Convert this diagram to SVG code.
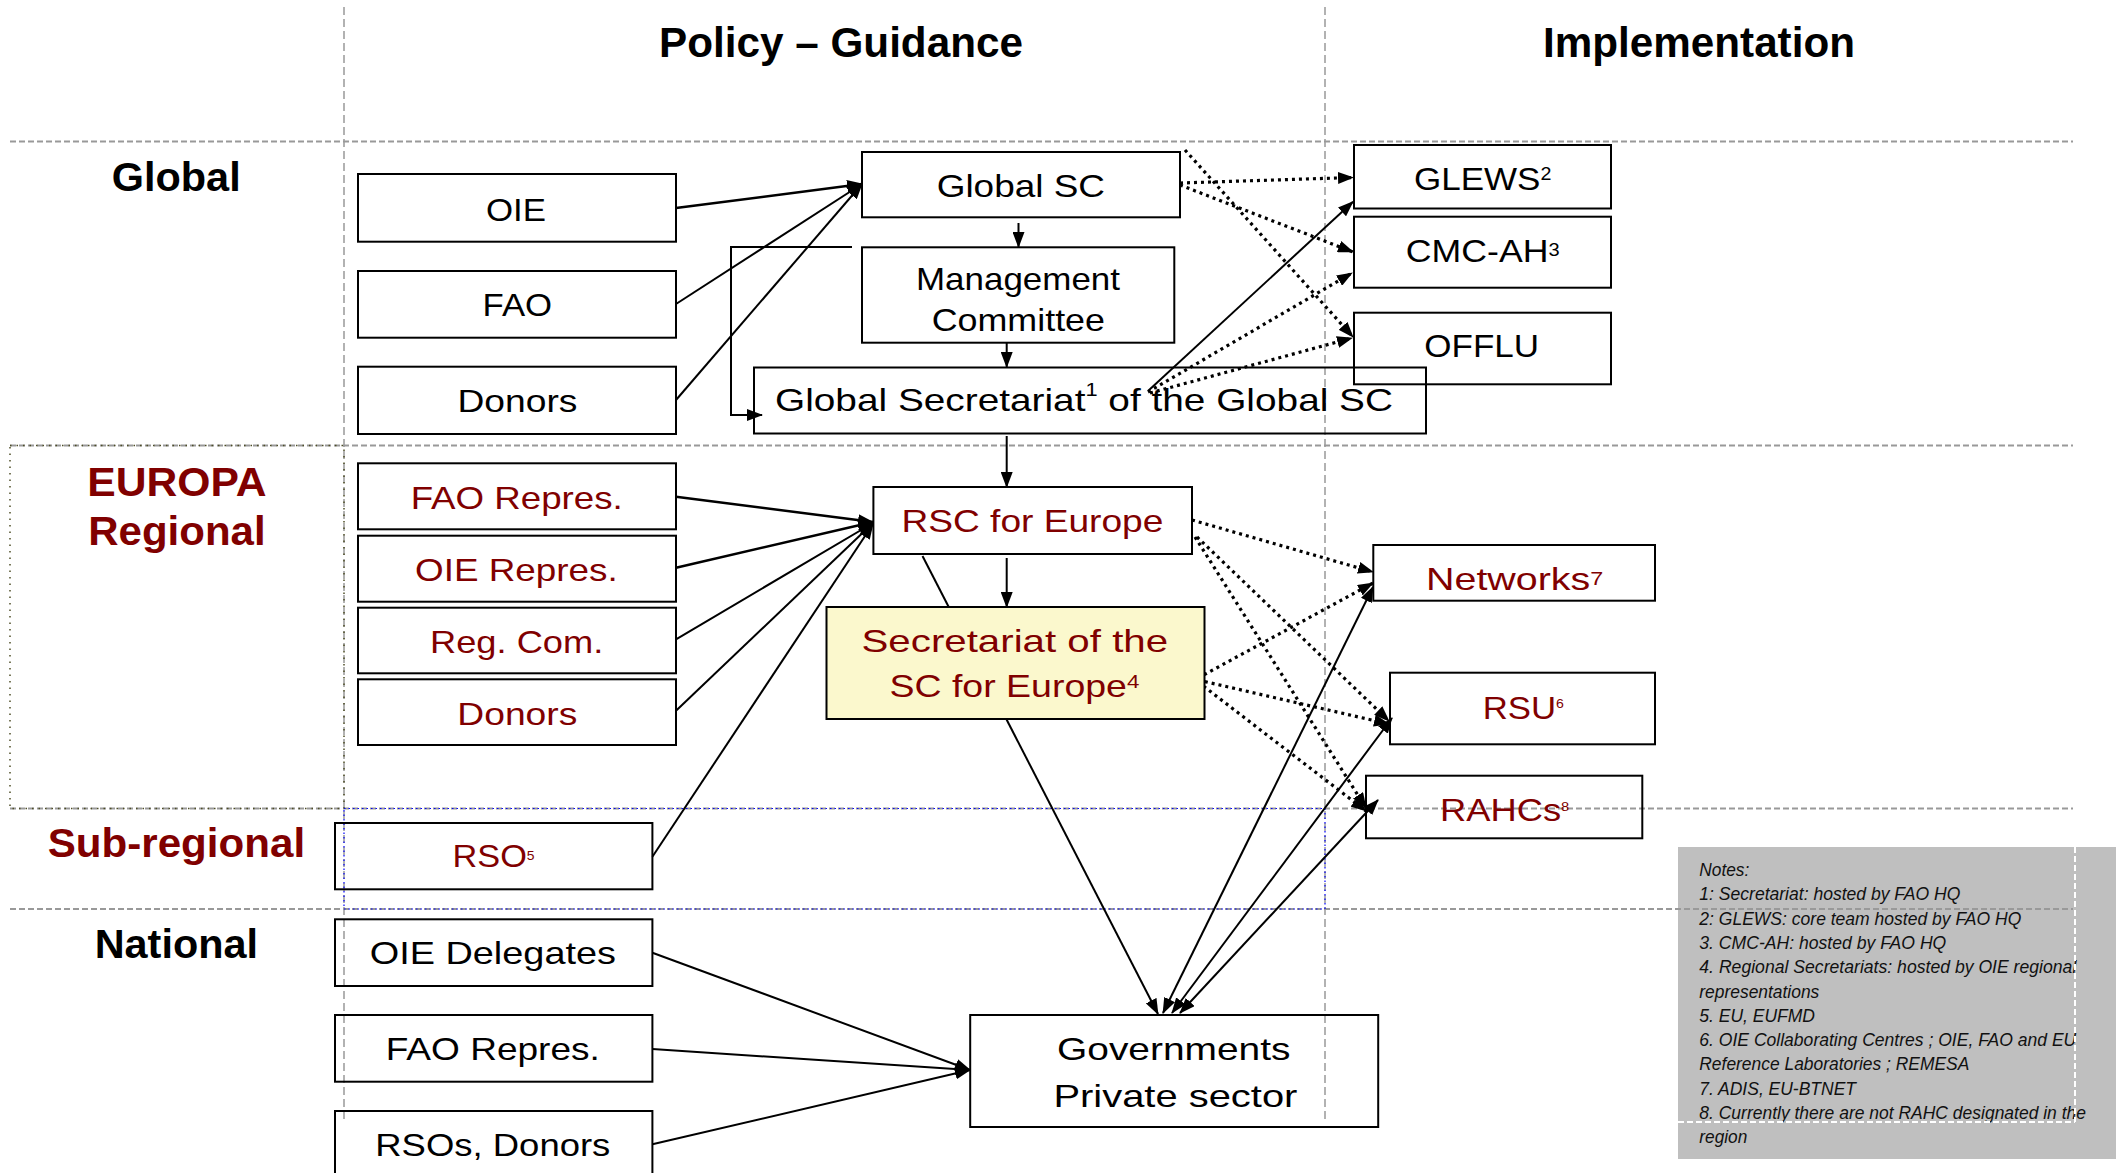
<svg xmlns="http://www.w3.org/2000/svg" width="2127" height="1173" viewBox="0 0 2127 1173">
<style>
text{font-family:"Liberation Sans",Arial,Helvetica,sans-serif;fill:#000}
.b{font-size:32px}
.r{fill:#800000}
.h{font-size:42px;font-weight:bold}
.l{font-size:41px;font-weight:bold}
.n{font-size:17.5px;font-style:italic;fill:#111}
.box{fill:none;stroke:#000;stroke-width:2}
.g{stroke:#999;stroke-width:2;stroke-dasharray:6 3;fill:none}
.c{stroke:#000;stroke-width:2;fill:none;marker-end:url(#ah)}
.c2{stroke:#000;stroke-width:2;fill:none;marker-start:url(#ah);marker-end:url(#ah)}
.d{stroke:#000;stroke-width:3.2;stroke-dasharray:3 4;fill:none;marker-end:url(#ah)}
</style>
<defs>
<marker id="ah" viewBox="0 0 16 12" refX="15" refY="6" markerWidth="16" markerHeight="12" markerUnits="userSpaceOnUse" orient="auto-start-reverse"><path d="M0,0 L16,6 L0,12 z" fill="#000"/></marker>
</defs>
<rect width="2127" height="1173" fill="#fff"/>

<g id="notes-bg"><rect x="1678" y="847" width="438" height="312" fill="#bfbfbf"/></g>

<g id="grid">
<line class="g" x1="10" y1="141.5" x2="2073" y2="141.5"/>
<line class="g" x1="10" y1="445.5" x2="2073" y2="445.5"/>
<line class="g" x1="10" y1="808.5" x2="2073" y2="808.5"/>
<line class="g" x1="10" y1="909" x2="2073" y2="909"/>
<line class="g" x1="344" y1="7" x2="344" y2="1122" style="stroke-width:1.5;stroke-dasharray:8 4"/>
<line class="g" x1="1325" y1="7" x2="1325" y2="1122" style="stroke-width:1.5;stroke-dasharray:8 4"/>
<rect x="10" y="445.5" width="334" height="363" fill="none" stroke="#4d4d26" stroke-width="1.5" stroke-dasharray="1.5 5"/>
<rect x="344" y="808.5" width="981" height="100.5" fill="none" stroke="#0000ff" stroke-width="1.2" stroke-dasharray="1.5 3"/>
</g>

<g id="titles">
<text class="h" x="659" y="56.7" textLength="364" lengthAdjust="spacingAndGlyphs">Policy – Guidance</text>
<text class="h" x="1543" y="56.7" textLength="312" lengthAdjust="spacingAndGlyphs">Implementation</text>
<text class="l" x="111.7" y="191" textLength="129" lengthAdjust="spacingAndGlyphs">Global</text>
<text class="l r" x="87.3" y="496" textLength="179.3" lengthAdjust="spacingAndGlyphs">EUROPA</text>
<text class="l r" x="88.3" y="545" textLength="177.3" lengthAdjust="spacingAndGlyphs">Regional</text>
<text class="l r" x="47.7" y="857.3" textLength="257.5" lengthAdjust="spacingAndGlyphs">Sub-regional</text>
<text class="l" x="94.7" y="958.3" textLength="163.3" lengthAdjust="spacingAndGlyphs">National</text>
</g>

<g id="connectors">
<path class="c" d="M676,208 L862,184" style="stroke-width:2.5"/>
<path class="c" d="M676,304 L862,184"/>
<path class="c" d="M676,400 L862,184"/>
<path class="c" d="M1018.5,223 L1018.5,247"/>
<path class="c" d="M1006.7,343 L1006.7,367"/>
<path class="c" d="M852,247 H731 V415 H762"/>
<path class="c" d="M1006.7,436 L1006.7,487"/>
<path class="d" d="M1180,183 L1353,177.5"/>
<path class="d" d="M1180,185 L1353,252"/>
<path class="d" d="M1185,150 L1353,337"/>
<path class="c" d="M1148,391 L1353,201.7"/>
<path class="d" d="M1148,392 L1352,273"/>
<path class="d" d="M1150,393 L1352,338"/>
<path class="c" d="M676,496.7 L873,522" style="stroke-width:2.5"/>
<path class="c" d="M676,567.7 L873,522" style="stroke-width:2.5"/>
<path class="c" d="M676,639.3 L873,523"/>
<path class="c" d="M676,710.7 L873,523"/>
<path class="c" d="M652.4,856.7 L873,524"/>
<path class="c" d="M1006.7,558 L1006.7,607"/>
<path class="c" d="M922.5,556 L1158,1014"/>
<path class="d" d="M1192,520 L1373,572"/>
<path class="d" d="M1197,537 L1389,721"/>
<path class="d" d="M1195,537 L1366,808"/>
<path class="d" d="M1198,678 L1373,583"/>
<path class="d" d="M1198,680 L1389,724"/>
<path class="d" d="M1198,682 L1366,811"/>
<path class="c2" d="M1163,1013 L1373,587"/>
<path class="c2" d="M1172,1013 L1392,718"/>
<path class="c2" d="M1180,1013 L1378,800"/>
<path class="c" d="M652.4,952.7 L970,1070"/>
<path class="c" d="M652.4,1049 L970,1070"/>
<path class="c" d="M652.4,1144.3 L970,1070"/>
</g>

<g id="n-oie"><rect class="box" x="358" y="174" width="318" height="67.7"/><text class="b" x="486" y="220.5" textLength="60" lengthAdjust="spacingAndGlyphs">OIE</text></g>
<g id="n-fao"><rect class="box" x="358" y="271" width="318" height="66.7"/><text class="b" x="482.6" y="316" textLength="69.5" lengthAdjust="spacingAndGlyphs">FAO</text></g>
<g id="n-donors"><rect class="box" x="358" y="366.7" width="318" height="67.3"/><text class="b" x="457.4" y="412" textLength="120" lengthAdjust="spacingAndGlyphs">Donors</text></g>
<g id="n-globalsc"><rect class="box" x="862" y="152" width="318" height="65.3"/><text class="b" x="936.7" y="196.7" textLength="168.3" lengthAdjust="spacingAndGlyphs">Global SC</text></g>
<g id="n-mgmt"><rect class="box" x="862" y="247.3" width="312.3" height="95.4"/><text class="b" x="916" y="290" textLength="204" lengthAdjust="spacingAndGlyphs">Management</text><text class="b" x="931.7" y="330.5" textLength="173.3" lengthAdjust="spacingAndGlyphs">Committee</text></g>
<g id="n-globalsec"><rect class="box" x="754" y="367.5" width="672" height="66"/><text class="b" x="775" y="410.5" textLength="618" lengthAdjust="spacingAndGlyphs">Global Secretariat<tspan font-size="18" dy="-15">1</tspan><tspan dy="15"> of the Global SC</tspan></text></g>
<g id="n-glews"><rect class="box" x="1354" y="145" width="257" height="63.5"/><text class="b" x="1414" y="190" textLength="137.4" lengthAdjust="spacingAndGlyphs">GLEWS<tspan font-size="18" dy="-10">2</tspan></text></g>
<g id="n-cmcah"><rect class="box" x="1354" y="216.7" width="257" height="71"/><text class="b" x="1405.8" y="261.7" textLength="153.8" lengthAdjust="spacingAndGlyphs">CMC-AH<tspan font-size="18" dy="-6">3</tspan></text></g>
<g id="n-offlu"><rect class="box" x="1354" y="312.7" width="257" height="71.6"/><text class="b" x="1424.3" y="356.7" textLength="114.7" lengthAdjust="spacingAndGlyphs">OFFLU</text></g>

<g id="n-eu-fao"><rect class="box" x="358" y="463.3" width="318" height="66"/><text class="b r" x="410.7" y="509.3" textLength="212" lengthAdjust="spacingAndGlyphs">FAO Repres.</text></g>
<g id="n-eu-oie"><rect class="box" x="358" y="535.7" width="318" height="66"/><text class="b r" x="415" y="580.7" textLength="202.7" lengthAdjust="spacingAndGlyphs">OIE Repres.</text></g>
<g id="n-eu-regcom"><rect class="box" x="358" y="607.7" width="318" height="65.6"/><text class="b r" x="430" y="652.7" textLength="173.3" lengthAdjust="spacingAndGlyphs">Reg. Com.</text></g>
<g id="n-eu-donors"><rect class="box" x="358" y="679.3" width="318" height="65.7"/><text class="b r" x="457.3" y="725" textLength="120" lengthAdjust="spacingAndGlyphs">Donors</text></g>
<g id="n-rsc"><rect class="box" x="873.4" y="487" width="318.6" height="67"/><text class="b r" x="901.4" y="531.7" textLength="262" lengthAdjust="spacingAndGlyphs">RSC for Europe</text></g>
<g id="n-secretariat"><rect x="826.5" y="607" width="378" height="112" fill="#fbf8cd" stroke="#000" stroke-width="2"/><text class="b r" x="861.5" y="651.7" textLength="306.6" lengthAdjust="spacingAndGlyphs">Secretariat of the</text><text class="b r" x="889.5" y="696.7" textLength="249.8" lengthAdjust="spacingAndGlyphs">SC for Europe<tspan font-size="19" dy="-9">4</tspan></text></g>
<g id="n-networks"><rect class="box" x="1373.3" y="545" width="281.7" height="55.7"/><text class="b r" x="1426" y="590" textLength="177.3" lengthAdjust="spacingAndGlyphs">Networks<tspan font-size="19" dy="-5">7</tspan></text></g>
<g id="n-rsu"><rect class="box" x="1390" y="672.7" width="265" height="71.6"/><text class="b r" x="1482.7" y="719" textLength="81.3" lengthAdjust="spacingAndGlyphs">RSU<tspan font-size="13" dy="-11">6</tspan></text></g>
<g id="n-rahcs"><rect class="box" x="1366" y="775.7" width="276.3" height="62.6"/><text class="b r" x="1440" y="821" textLength="129.3" lengthAdjust="spacingAndGlyphs">RAHCs<tspan font-size="13" dy="-10">8</tspan></text></g>
<g id="n-rso"><rect class="box" x="335" y="823" width="317.4" height="66.3"/><text class="b r" x="452.5" y="867.3" textLength="82.1" lengthAdjust="spacingAndGlyphs">RSO<tspan font-size="13" dy="-7">5</tspan></text></g>

<g id="n-oiedel"><rect class="box" x="335" y="919.3" width="317.4" height="66.7"/><text class="b" x="369.7" y="964" textLength="246.3" lengthAdjust="spacingAndGlyphs">OIE Delegates</text></g>
<g id="n-nat-fao"><rect class="box" x="335" y="1015" width="317.4" height="66.7"/><text class="b" x="385.8" y="1060" textLength="214" lengthAdjust="spacingAndGlyphs">FAO Repres.</text></g>
<g id="n-rsos"><rect class="box" x="335" y="1111" width="317.4" height="67"/><text class="b" x="375.3" y="1156" textLength="235" lengthAdjust="spacingAndGlyphs">RSOs, Donors</text></g>
<g id="n-gov"><rect class="box" x="970.2" y="1015" width="408" height="112"/><text class="b" x="1057" y="1060" textLength="233.5" lengthAdjust="spacingAndGlyphs">Governments</text><text class="b" x="1053.4" y="1106.7" textLength="244" lengthAdjust="spacingAndGlyphs">Private sector</text></g>

<g id="notes">
<text class="n" x="1699.3" y="876" textLength="50" lengthAdjust="spacingAndGlyphs">Notes:</text>
<text class="n" x="1699.3" y="900.3" textLength="261" lengthAdjust="spacingAndGlyphs">1: Secretariat: hosted by FAO HQ</text>
<text class="n" x="1699.3" y="924.6" textLength="322" lengthAdjust="spacingAndGlyphs">2: GLEWS: core team hosted by FAO HQ</text>
<text class="n" x="1699.3" y="948.9" textLength="247" lengthAdjust="spacingAndGlyphs">3. CMC-AH: hosted by FAO HQ</text>
<text class="n" x="1699.3" y="973.2" textLength="377" lengthAdjust="spacingAndGlyphs">4. Regional Secretariats: hosted by OIE regional</text>
<text class="n" x="1699.3" y="997.5" textLength="120" lengthAdjust="spacingAndGlyphs">representations</text>
<text class="n" x="1699.3" y="1021.8" textLength="115.7" lengthAdjust="spacingAndGlyphs">5. EU, EUFMD</text>
<text class="n" x="1699.3" y="1046.1" textLength="377" lengthAdjust="spacingAndGlyphs">6. OIE Collaborating Centres ; OIE, FAO and EU</text>
<text class="n" x="1699.3" y="1070.4" textLength="270" lengthAdjust="spacingAndGlyphs">Reference Laboratories ; REMESA</text>
<text class="n" x="1699.3" y="1094.7" textLength="156.7" lengthAdjust="spacingAndGlyphs">7. ADIS, EU-BTNET</text>
<text class="n" x="1699.3" y="1119" textLength="386.7" lengthAdjust="spacingAndGlyphs">8. Currently there are not RAHC designated in the</text>
<text class="n" x="1699.3" y="1143.3" textLength="48" lengthAdjust="spacingAndGlyphs">region</text>
<line x1="2075" y1="847" x2="2075" y2="1122" stroke="#fff" stroke-width="2" stroke-dasharray="6 3"/>
<line x1="1678" y1="1122" x2="2075" y2="1122" stroke="#fff" stroke-width="2" stroke-dasharray="6 3"/>
</g>
</svg>
